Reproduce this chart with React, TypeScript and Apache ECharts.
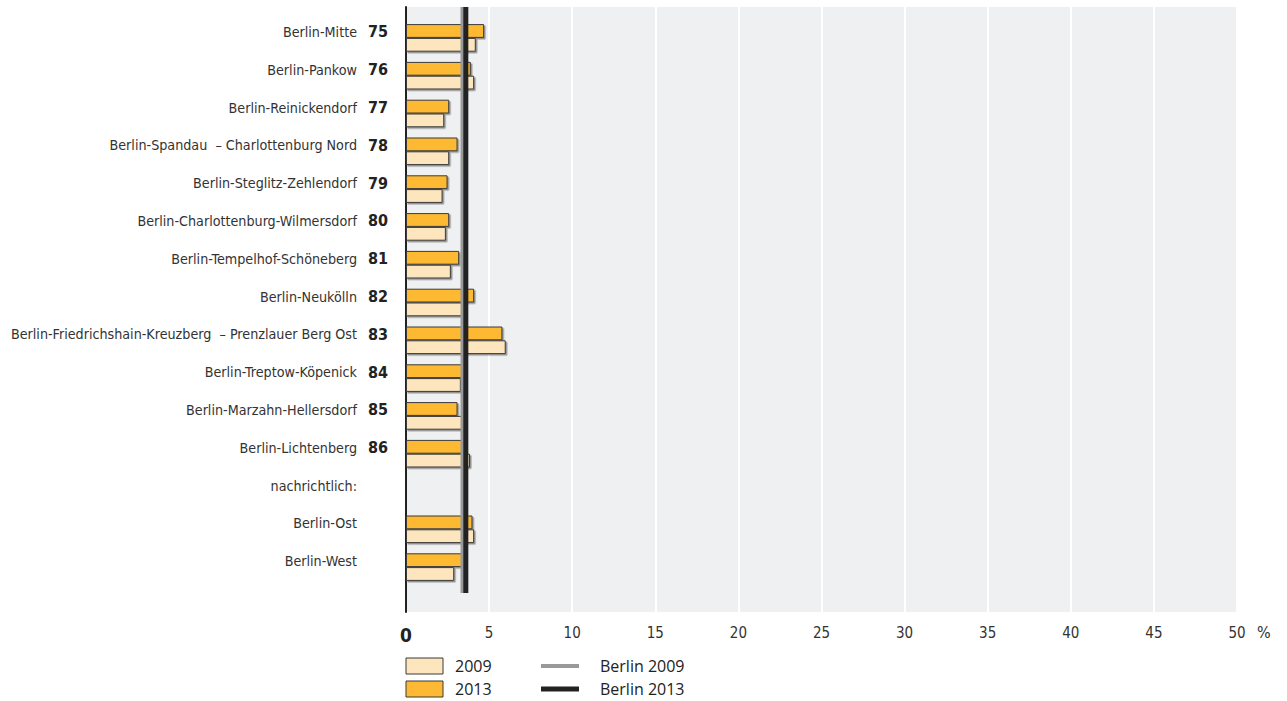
import React, { useEffect, useRef } from "react";
import * as echarts from "echarts";

const categories = [
  "Berlin-Mitte",
  "Berlin-Pankow",
  "Berlin-Reinickendorf",
  "Berlin-Spandau  – Charlottenburg Nord",
  "Berlin-Steglitz-Zehlendorf",
  "Berlin-Charlottenburg-Wilmersdorf",
  "Berlin-Tempelhof-Schöneberg",
  "Berlin-Neukölln",
  "Berlin-Friedrichshain-Kreuzberg  – Prenzlauer Berg Ost",
  "Berlin-Treptow-Köpenick",
  "Berlin-Marzahn-Hellersdorf",
  "Berlin-Lichtenberg",
  "nachrichtlich:",
  "Berlin-Ost",
  "Berlin-West",
];
const districtNumbers = ["75", "76", "77", "78", "79", "80", "81", "82", "83", "84", "85", "86", "", "", ""];
const values2009 = [4.2, 4.1, 2.3, 2.6, 2.2, 2.4, 2.7, 3.5, 6.0, 3.3, 3.4, 3.85, null, 4.1, 2.9];
const values2013 = [4.7, 3.9, 2.6, 3.1, 2.5, 2.6, 3.2, 4.1, 5.8, 3.4, 3.1, 3.4, null, 4.0, 3.4];
const berlin2009 = 3.4;
const berlin2013 = 3.6;
const xTicks = { min: 0, max: 50, interval: 5 };

const NARROW = "'DejaVu Sans Condensed', 'Liberation Sans Narrow', sans-serif";
const SANS = "'Open Sans', 'Noto Sans', sans-serif";

export default function App() {
  const ref = useRef<HTMLDivElement>(null);
  useEffect(() => {
    if (!ref.current) return;
    const chart = echarts.init(ref.current, undefined, { renderer: "svg" });
    const barShadow = {
      shadowColor: "rgba(0,0,0,0.4)",
      shadowOffsetX: 1.5,
      shadowOffsetY: 1.5,
      shadowBlur: 0,
    };
    const gridBase = { left: 406, width: 831, outerBoundsMode: "none", containLabel: false };
    chart.setOption({
      animation: false,
      backgroundColor: "#ffffff",
      grid: [
        { ...gridBase, top: 7, height: 605, show: true, backgroundColor: "#eff0f2", borderWidth: 0 },
        { ...gridBase, top: 19, height: 567 },
        { ...gridBase, top: 7, height: 586 },
      ],
      xAxis: [
        {
          gridIndex: 0,
          type: "value",
          min: xTicks.min,
          max: xTicks.max,
          interval: xTicks.interval,
          axisLine: { show: false },
          axisTick: { show: false },
          splitLine: { show: true, lineStyle: { color: "#ffffff", width: 2 } },
          axisLabel: {
            margin: 13,
            fontFamily: NARROW,
            fontSize: 15,
            color: "#333",
            formatter: (v: number) => (v === 0 ? "{z|0}" : String(v)),
            rich: { z: { fontFamily: NARROW, fontSize: 19, fontWeight: "bold", color: "#222" } },
          },
        },
        { gridIndex: 1, type: "value", min: xTicks.min, max: xTicks.max, show: false },
        { gridIndex: 2, type: "value", min: xTicks.min, max: xTicks.max, show: false },
      ],
      yAxis: [
        {
          gridIndex: 0,
          type: "value",
          min: 0,
          max: 1,
          axisLine: { show: true, onZero: false, lineStyle: { color: "#222", width: 2 } },
          axisTick: { show: false },
          axisLabel: { show: false },
          splitLine: { show: false },
        },
        {
          gridIndex: 1,
          type: "category",
          inverse: true,
          data: categories,
          axisLine: { show: false },
          axisTick: { show: false },
          axisLabel: {
            margin: 18,
            padding: [0, 0, 12, 0],
            formatter: (v: string, i: number) => `{n|${v}}{b|${districtNumbers[i] || " "}}`,
            rich: {
              n: { fontFamily: NARROW, fontSize: 14.2, color: "#333" },
              b: { fontFamily: NARROW, fontSize: 16, fontWeight: "bold", color: "#222", width: 31, align: "right" },
            },
          },
        },
        { gridIndex: 2, type: "value", min: 0, max: 1, show: false },
      ],
      series: [
        {
          name: "2013",
          type: "bar",
          xAxisIndex: 1,
          yAxisIndex: 1,
          data: values2013,
          barGap: "0%",
          barCategoryGap: "27%",
          itemStyle: { color: "#fdb933", borderColor: "#3a3a3a", borderWidth: 1, ...barShadow },
        },
        {
          name: "2009",
          type: "bar",
          xAxisIndex: 1,
          yAxisIndex: 1,
          data: values2009,
          barGap: "0%",
          barCategoryGap: "27%",
          itemStyle: { color: "#fde5bd", borderColor: "#3a3a3a", borderWidth: 1, ...barShadow },
        },
        {
          name: "Berlin 2009",
          type: "line",
          xAxisIndex: 2,
          yAxisIndex: 2,
          data: [[berlin2009, 0], [berlin2009, 1]],
          symbol: "none",
          lineStyle: { color: "#999999", width: 4 },
          z: 5,
        },
        {
          name: "Berlin 2013",
          type: "line",
          xAxisIndex: 2,
          yAxisIndex: 2,
          data: [[berlin2013, 0], [berlin2013, 1]],
          symbol: "none",
          lineStyle: { color: "#222222", width: 5 },
          z: 6,
        },
      ],
      graphic: [
        { type: "text", left: 1257, top: 624, style: { text: "%", fontFamily: NARROW, fontSize: 16, fill: "#333" } },
        { type: "rect", shape: { x: 406, y: 658, width: 37, height: 16 }, style: { fill: "#fde5bd", stroke: "#3a3a3a", lineWidth: 1 } },
        { type: "rect", shape: { x: 406, y: 681, width: 37, height: 16 }, style: { fill: "#fdb933", stroke: "#3a3a3a", lineWidth: 1 } },
        { type: "text", x: 455, y: 666, style: { text: "2009", fontFamily: SANS, fontSize: 16, fill: "#222", verticalAlign: "middle" } },
        { type: "text", x: 455, y: 689, style: { text: "2013", fontFamily: SANS, fontSize: 16, fill: "#222", verticalAlign: "middle" } },
        { type: "line", shape: { x1: 541, y1: 666, x2: 579, y2: 666 }, style: { stroke: "#999999", lineWidth: 4 } },
        { type: "line", shape: { x1: 541, y1: 689, x2: 579, y2: 689 }, style: { stroke: "#222222", lineWidth: 5 } },
        { type: "text", x: 600, y: 666, style: { text: "Berlin 2009", fontFamily: SANS, fontSize: 16, fill: "#222", verticalAlign: "middle" } },
        { type: "text", x: 600, y: 689, style: { text: "Berlin 2013", fontFamily: SANS, fontSize: 16, fill: "#222", verticalAlign: "middle" } },
      ],
    });
    return () => chart.dispose();
  }, []);
  return (
    <div
      ref={ref}
      style={{ position: "fixed", left: 0, top: 0, width: 1287, height: 701 }}
    />
  );
}
